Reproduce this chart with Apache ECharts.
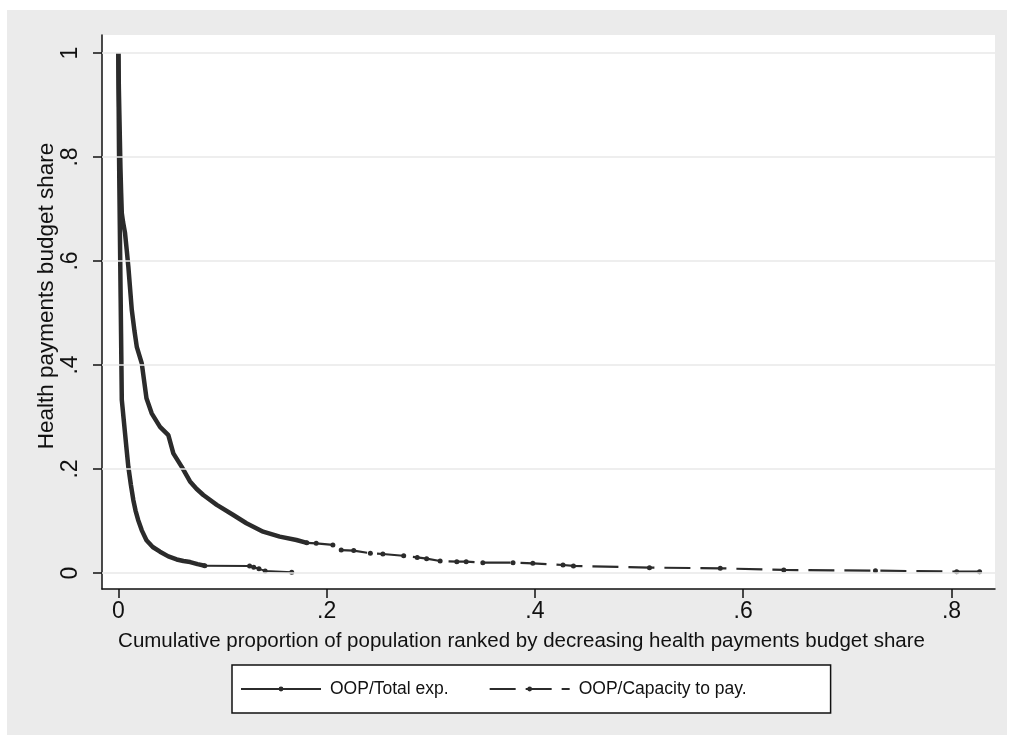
<!DOCTYPE html>
<html>
<head>
<meta charset="utf-8">
<script src="https://cdn.jsdelivr.net/npm/echarts@6/dist/echarts.min.js"></script>
<style>
  html, body { margin: 0; padding: 0; background: #fff; }
  #wrap { position: relative; width: 1014px; height: 742px; background: #fff; }
  #main { position: absolute; left: 7px; top: 10px; width: 1000px; height: 725px; }
</style>
</head>
<body>
<div id="wrap"><div id="main"></div></div>
<script>
// OOP / total expenditure - steep dense part
const totalX = [0, 0.0003, 0.0006, 0.0010, 0.0014, 0.0018, 0.0022, 0.0026, 0.0030, 0.0033, 0.0040, 0.0050,
  0.0064, 0.0080, 0.0096, 0.0120, 0.0144, 0.0165, 0.0190, 0.0225, 0.0270, 0.0330, 0.0400, 0.0480,
  0.0560, 0.0625, 0.0690, 0.0760, 0.0830];
const totalY = [1.0, 0.90, 0.82, 0.74, 0.67, 0.60, 0.53, 0.46, 0.39, 0.333, 0.319, 0.298,
  0.269, 0.236, 0.204, 0.170, 0.140, 0.120, 0.102, 0.082, 0.063, 0.050, 0.041, 0.032,
  0.026, 0.023, 0.021, 0.017, 0.014];
// OOP / total expenditure - sparse tail
const totalTailX = [0.0830, 0.126, 0.130, 0.135, 0.141, 0.1665];
const totalTailY = [0.014, 0.0135, 0.011, 0.008, 0.004, 0.0015];

// OOP / capacity to pay - dense part
const capX = [0, 0.0005, 0.0010, 0.0015, 0.0020, 0.0027, 0.0033, 0.0045, 0.0064, 0.0080, 0.0096, 0.0129,
  0.0155, 0.0177, 0.0225, 0.0270, 0.032, 0.040, 0.048, 0.0528, 0.0609, 0.0688, 0.0750, 0.0816,
  0.0945, 0.110, 0.123, 0.139, 0.155, 0.171, 0.181];
const capY = [1.0, 0.93, 0.88, 0.83, 0.78, 0.73, 0.692, 0.675, 0.654, 0.622, 0.589, 0.506,
  0.465, 0.435, 0.403, 0.336, 0.307, 0.281, 0.265, 0.230, 0.204, 0.176, 0.162, 0.150,
  0.131, 0.112, 0.0956, 0.0795, 0.070, 0.0635, 0.058];
// OOP / capacity to pay - sparse dashed tail
const capTailX = [0.181, 0.190, 0.206, 0.214, 0.226, 0.242, 0.254, 0.274, 0.287, 0.296, 0.309, 0.325,
  0.334, 0.350, 0.379, 0.398, 0.427, 0.437, 0.510, 0.578, 0.639, 0.727, 0.805, 0.827];
const capTailY = [0.058, 0.057, 0.054, 0.044, 0.043, 0.038, 0.0365, 0.033, 0.030, 0.0275, 0.023, 0.0218,
  0.0218, 0.0199, 0.0199, 0.0186, 0.0154, 0.0135, 0.0103, 0.009, 0.0058, 0.0045, 0.0026, 0.0025];

const xTicks = [0, 0.2, 0.4, 0.6, 0.8];
const yTicks = [0, 0.2, 0.4, 0.6, 0.8, 1];

const names = ["OOP/Total exp.", "OOP/Capacity to pay."];

const ink = "#2b2b2b";
const font = "Liberation Sans";

function pairs(xs, ys) {
  return xs.map((x, i) => [x, ys[i]]);
}
function tickText(v) {
  return v === 0 ? "0" : v === 1 ? "1" : String(v).replace(/^0/, "");
}

const chart = echarts.init(document.getElementById("main"));
const option = {
  animation: false,
  backgroundColor: "#ebebeb",
  grid: {
    left: 95,
    top: 25,
    width: 893,
    height: 554,
    show: true,
    backgroundColor: "#fff",
    borderWidth: 0,
  },
  xAxis: {
    type: "value",
    min: -0.0157,
    max: 0.8418,
    name: "Cumulative proportion of population ranked by decreasing health payments budget share",
    nameLocation: "middle",
    nameGap: 42,
    nameTextStyle: { fontFamily: font, fontSize: 20.5, color: "#111", padding: [0, 54, 0, 0] },
    axisLine: { onZero: false, lineStyle: { color: "#111", width: 1.5 } },
    axisTick: { customValues: xTicks, length: 9, lineStyle: { color: "#111", width: 1.5 } },
    axisLabel: {
      customValues: xTicks,
      margin: 11,
      fontFamily: font,
      fontSize: 23,
      color: "#111",
      formatter: tickText,
    },
    splitLine: { show: false },
  },
  yAxis: {
    type: "value",
    min: -0.0308,
    max: 1.0346,
    name: "Health payments budget share",
    nameLocation: "middle",
    nameGap: 44,
    nameMoveOverlap: false,
    nameTextStyle: { fontFamily: font, fontSize: 22.5, color: "#111", padding: [0, 0, 0, 32] },
    axisLine: { onZero: false, lineStyle: { color: "#111", width: 1.5 } },
    axisTick: { customValues: yTicks, length: 9, lineStyle: { color: "#111", width: 1.5 } },
    axisLabel: {
      customValues: yTicks,
      rotate: 90,
      margin: 20,
      fontFamily: font,
      fontSize: 23,
      color: "#111",
      formatter: tickText,
    },
    splitLine: { show: false },
  },
  legend: {
    data: names,
    left: 225,
    top: 655,
    orient: "horizontal",
    backgroundColor: "#fff",
    borderColor: "#111",
    borderWidth: 1.5,
    padding: [15, 84, 15, 8],
    itemWidth: 80,
    itemHeight: 6,
    itemGap: 40,
    textStyle: { fontFamily: font, fontSize: 17.5, color: "#111", padding: [0, 0, 0, 4] },
  },
  series: [
    {
      name: "grid",
      type: "line",
      data: [],
      z: 1,
      silent: true,
      markLine: {
        silent: true,
        symbol: "none",
        label: { show: false },
        lineStyle: { color: "#e8e8e8", width: 1.5, type: "solid" },
        data: yTicks.map((v) => ({ yAxis: v })),
      },
    },
    {
      name: "_totalBody",
      type: "line",
      data: pairs(totalX, totalY),
      z: 3,
      symbol: "none",
      lineStyle: { color: ink, width: 4.5 },
    },
    {
      name: names[0],
      type: "line",
      data: pairs(totalTailX, totalTailY),
      z: 3,
      symbol: "circle",
      symbolSize: 5,
      itemStyle: { color: ink },
      lineStyle: { color: ink, width: 2 },
    },
    {
      name: "_capBody",
      type: "line",
      data: pairs(capX, capY),
      z: 3,
      symbol: "none",
      lineStyle: { color: ink, width: 4.5 },
    },
    {
      name: names[1],
      type: "line",
      data: pairs(capTailX, capTailY),
      z: 3,
      symbol: "circle",
      symbolSize: 5,
      itemStyle: { color: ink },
      lineStyle: { color: ink, width: 2.2, type: [26, 10] },
    },
  ],
};
chart.setOption(option);
</script>
</body>
</html>
